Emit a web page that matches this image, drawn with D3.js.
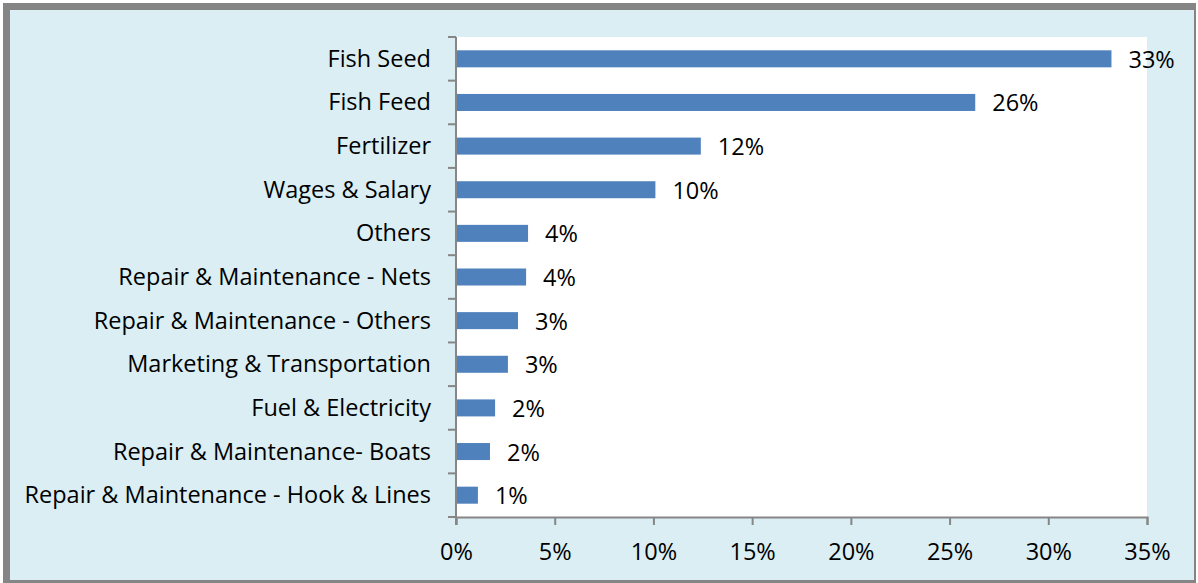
<!DOCTYPE html>
<html>
<head>
<meta charset="utf-8">
<script src="https://cdn.jsdelivr.net/npm/d3@7"></script>
<style>
  body { margin: 0; background: #ffffff; }
  svg { display: block; }
</style>
</head>
<body>
<div class="cost-chart"></div>
<script>
  // cost components, top to bottom
  const categories = [
    "Fish Seed",
    "Fish Feed",
    "Fertilizer",
    "Wages & Salary",
    "Others",
    "Repair & Maintenance - Nets",
    "Repair & Maintenance - Others",
    "Marketing & Transportation",
    "Fuel & Electricity",
    "Repair & Maintenance- Boats",
    "Repair & Maintenance - Hook & Lines"
  ];
  const shares = [33.2, 26.3, 12.4, 10.1, 3.65, 3.55, 3.14, 2.63, 1.98, 1.72, 1.11];
  const xTicks = [0, 5, 10, 15, 20, 25, 30, 35];

  const width = 1198;
  const height = 583;
  const plot = { left: 456, right: 1147, top: 37, bottom: 517 };
  const font = "'Open Sans', sans-serif";
  const fontSize = "23.5px";

  const svg = d3.select('.cost-chart')
    .append("svg")
    .attr("width", width)
    .attr("height", height);

  // frame + background
  svg.append("rect")
    .attr("x", 3).attr("y", 3)
    .attr("width", 1193).attr("height", 580)
    .attr("fill", "#858585");
  svg.append("rect")
    .attr("x", 10).attr("y", 10)
    .attr("width", 1184).attr("height", 570)
    .attr("fill", "#DAEEF3");

  svg.append("rect")
    .attr("x", plot.left).attr("y", plot.top)
    .attr("width", plot.right - plot.left)
    .attr("height", plot.bottom - plot.top)
    .attr("fill", "#ffffff");

  const x = d3.scaleLinear()
    .domain([0, 35])
    .range([plot.left, plot.right]);

  const y = d3.scaleBand()
    .domain(categories)
    .range([plot.top, plot.bottom])
    .paddingInner(0.61)
    .paddingOuter(0.305);

  const band = (plot.bottom - plot.top) / categories.length;
  const center = d => y(d) + y.bandwidth() / 2;

  svg.selectAll(".bar")
    .data(categories)
    .enter()
    .append("rect")
    .attr("class", "bar")
    .attr("x", x(0))
    .attr("y", d => y(d))
    .attr("width", (d, i) => x(shares[i]) - x(0))
    .attr("height", y.bandwidth())
    .attr("fill", "#4F81BD");

  // axes
  const xAxis = svg.append("g")
    .attr("transform", `translate(0,${plot.bottom})`)
    .call(d3.axisBottom(x).tickValues(xTicks).tickSize(8).tickFormat(d => d + "%"));
  xAxis.select(".domain").attr("stroke", "#868686").attr("stroke-width", 2);
  xAxis.selectAll(".tick line").attr("stroke", "#868686").attr("stroke-width", 2);
  xAxis.selectAll(".tick text")
    .attr("y", 43)
    .attr("dy", 0)
    .attr("font-family", font)
    .attr("font-size", fontSize)
    .attr("fill", "#000");

  // left axis line + ticks at band boundaries
  svg.append("line")
    .attr("x1", plot.left).attr("x2", plot.left)
    .attr("y1", plot.top).attr("y2", plot.bottom + 8)
    .attr("stroke", "#868686").attr("stroke-width", 2);

  svg.selectAll(".ytick")
    .data(d3.range(categories.length + 1))
    .enter()
    .append("line")
    .attr("class", "ytick")
    .attr("x1", plot.left - 8).attr("x2", plot.left)
    .attr("y1", i => plot.top + i * band)
    .attr("y2", i => plot.top + i * band)
    .attr("stroke", "#868686").attr("stroke-width", 2);

  svg.selectAll(".category-label")
    .data(categories)
    .enter()
    .append("text")
    .attr("class", "category-label")
    .text(d => d)
    .attr("x", 431)
    .attr("y", d => center(d) + 8)
    .attr("text-anchor", "end")
    .attr("font-family", font)
    .attr("font-size", fontSize)
    .attr("fill", "#000");

  svg.selectAll(".value-label")
    .data(categories)
    .enter()
    .append("text")
    .attr("class", "value-label")
    .text((d, i) => Math.round(shares[i]) + "%")
    .attr("x", (d, i) => x(shares[i]) + 17)
    .attr("y", d => center(d) + 9)
    .attr("text-anchor", "start")
    .attr("font-family", font)
    .attr("font-size", fontSize)
    .attr("fill", "#000");
</script>
</body>
</html>
